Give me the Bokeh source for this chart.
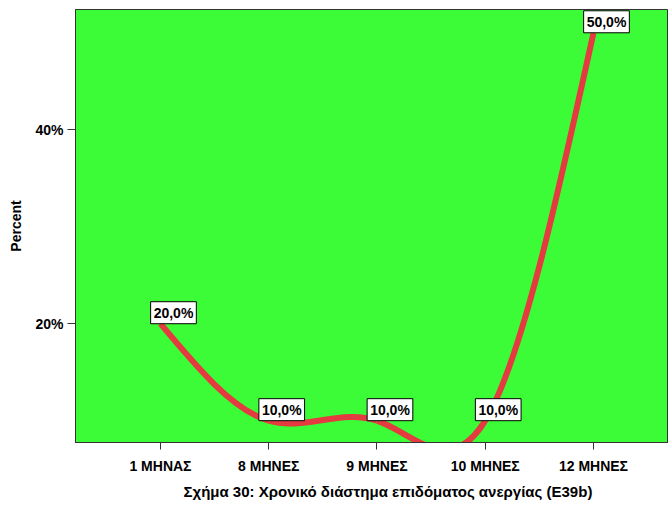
import numpy as np
from bokeh.plotting import figure
from bokeh.models import FixedTicker, PrintfTickFormatter, Range1d, Label, Title
from bokeh.embed import file_html
from bokeh.resources import INLINE

categories = ["1 ΜΗΝΑΣ", "8 ΜΗΝΕΣ", "9 ΜΗΝΕΣ", "10 ΜΗΝΕΣ", "12 ΜΗΝΕΣ"]
percents = [20.0, 10.0, 10.0, 10.0, 50.0]
y_ticks = [20, 40]
title_text = "Σχήμα 30: Χρονικό διάστημα επιδόματος ανεργίας (E39b)"
y_label = "Percent"

FONT = "Liberation Sans"
GREEN = "#3BFC37"
RED = "#E33B3F"

xs = np.arange(1, len(categories) + 1, dtype=float)
ys = np.array(percents, dtype=float)

# natural cubic spline (drawing style of the original), expressed as bezier segments
n = len(xs)
h = np.diff(xs)
A = np.zeros((n, n))
b = np.zeros(n)
A[0, 0] = 1
A[-1, -1] = 1
for i in range(1, n - 1):
    A[i, i - 1] = h[i - 1]
    A[i, i] = 2 * (h[i - 1] + h[i])
    A[i, i + 1] = h[i]
    b[i] = 6 * ((ys[i + 1] - ys[i]) / h[i] - (ys[i] - ys[i - 1]) / h[i - 1])
M = np.linalg.solve(A, b)
d0 = (ys[1:] - ys[:-1]) / h - h * (2 * M[:-1] + M[1:]) / 6
d1 = (ys[1:] - ys[:-1]) / h + h * (M[:-1] + 2 * M[1:]) / 6

p = figure(width=668, height=506, output_backend="svg", toolbar_location=None,
           x_range=Range1d(0.215, 5.693), y_range=Range1d(7.75, 52.4),
           min_border_left=75, min_border_top=9, min_border_right=0, min_border_bottom=64)
p.background_fill_color = GREEN
p.border_fill_color = "white"
p.outline_line_color = "#333333"
p.xgrid.visible = False
p.ygrid.visible = False

p.bezier(x0=xs[:-1], y0=ys[:-1], x1=xs[1:], y1=ys[1:],
         cx0=xs[:-1] + h / 3, cy0=ys[:-1] + d0 * h / 3,
         cx1=xs[1:] - h / 3, cy1=ys[1:] - d1 * h / 3,
         line_color=RED, line_width=6, line_cap="butt")

for x, v in zip(xs, percents):
    txt = f"{v:.1f}".replace(".", ",") + "%"
    p.add_layout(Label(x=x, y=v, text=txt, x_offset=13, y_offset=11,
                       text_align="center", text_baseline="middle",
                       text_font=FONT, text_font_style="bold", text_font_size="14px",
                       text_color="black", background_fill_color="white",
                       border_line_color="black", border_line_width=1, padding=(3, 3)))

xa = p.xaxis[0]
xa.ticker = FixedTicker(ticks=list(xs))
xa.major_label_overrides = {float(x): c for x, c in zip(xs, categories)}
xa.major_label_overrides.update({int(x): c for x, c in zip(xs, categories)})
xa.minor_tick_line_color = None
xa.major_tick_in = 0
xa.major_tick_out = 7
xa.axis_line_color = "#333333"
xa.major_tick_line_color = "#333333"
xa.major_label_text_font = FONT
xa.major_label_text_font_style = "bold"
xa.major_label_text_font_size = "14px"
xa.major_label_text_color = "black"
xa.major_label_standoff = 8

ya = p.yaxis[0]
ya.ticker = FixedTicker(ticks=y_ticks)
ya.formatter = PrintfTickFormatter(format="%d%%")
ya.minor_tick_line_color = None
ya.major_tick_in = 0
ya.major_tick_out = 8
ya.axis_line_color = "#333333"
ya.major_tick_line_color = "#333333"
ya.major_label_text_font = FONT
ya.major_label_text_font_style = "bold"
ya.major_label_text_font_size = "14px"
ya.major_label_text_color = "black"
ya.major_label_standoff = 4
ya.axis_label = y_label
ya.axis_label_text_font = FONT
ya.axis_label_text_font_style = "bold"
ya.axis_label_text_font_size = "14px"
ya.axis_label_text_color = "black"
ya.axis_label_standoff = 8

p.add_layout(Title(text=title_text, align="left", offset=108,
                   text_font=FONT, text_font_style="bold", text_font_size="15px",
                   text_color="black", standoff=9), "below")

open("out.html", "w").write(file_html(p, INLINE))
